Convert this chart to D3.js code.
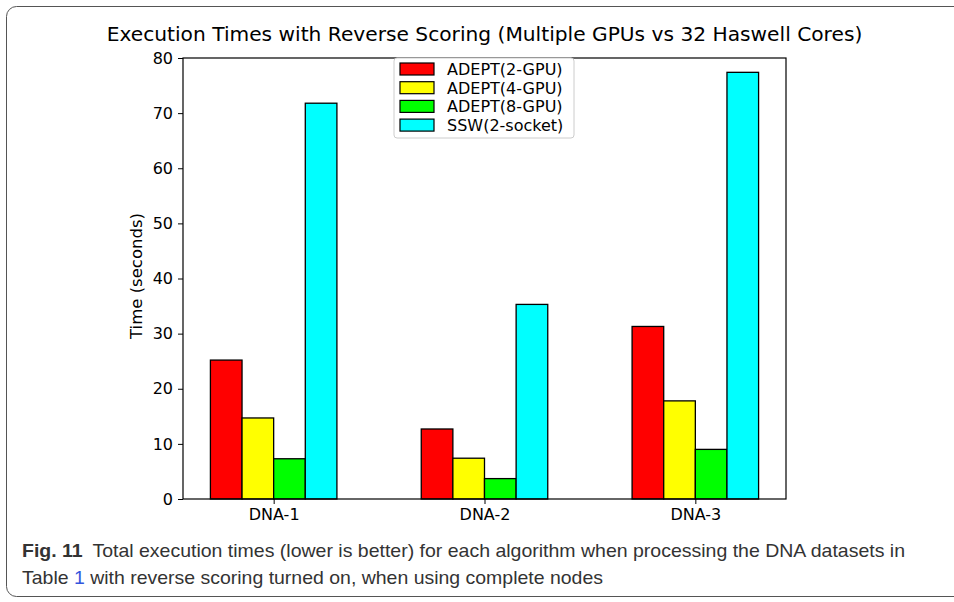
<!DOCTYPE html>
<html>
<head>
<meta charset="utf-8">
<script src="https://cdn.jsdelivr.net/npm/d3@7"></script>
<style>
  body { margin: 0; background: #fff; }
  svg { display: block; }
</style>
</head>
<body>
<svg id="chart" width="954" height="602"></svg>
<script>
// data
var datasets = ["DNA-1", "DNA-2", "DNA-3"];
var seriesNames = ["ADEPT(2-GPU)", "ADEPT(4-GPU)", "ADEPT(8-GPU)", "SSW(2-socket)"];
var seriesColors = ["#ff0000", "#ffff00", "#00ff00", "#00ffff"];
var adept2 = [25.2, 12.7, 31.3];
var adept4 = [14.7, 7.4, 17.8];
var adept8 = [7.3, 3.7, 9.0];
var ssw = [71.8, 35.3, 77.4];
var yTicks = [0, 10, 20, 30, 40, 50, 60, 70, 80];

var series = [adept2, adept4, adept8, ssw];

var svg = d3.select("#chart");
var plot = { left: 183, right: 786, top: 58, bottom: 499 };
var barW = 0.15;

// frame round the whole figure
svg.append("rect")
    .attr("x", 6.5).attr("y", 6.5)
    .attr("width", 980).attr("height", 590)
    .attr("rx", 10)
    .attr("fill", "none")
    .attr("stroke", "#555")
    .attr("stroke-width", 1);

// x is a linear scale on group index, like matplotlib (margin 5%)
var x = d3.scaleLinear()
    .domain([-0.3 - 0.13, 2.3 + 0.13])
    .range([plot.left, plot.right]);
var y = d3.scaleLinear()
    .domain([0, 80])
    .range([plot.bottom, plot.top]);

var g = svg.append("g");

series.forEach(function (vals, s) {
    g.selectAll("rect.s" + s)
        .data(vals)
        .enter()
        .append("rect")
        .attr("class", "s" + s)
        .attr("x", function (d, i) { return x(i + (s - 2) * barW); })
        .attr("width", function () { return x(barW) - x(0); })
        .attr("y", function (d) { return y(d); })
        .attr("height", function (d) { return y(0) - y(d); })
        .attr("fill", seriesColors[s])
        .attr("stroke", "#000")
        .attr("stroke-width", 1.3);
});

// axes
var yAxis = d3.axisLeft(y).tickValues(yTicks).tickSize(5).tickPadding(5);
var yg = svg.append("g")
    .attr("transform", "translate(" + plot.left + ",0)")
    .call(yAxis);
var xAxis = d3.axisBottom(x).tickValues([0, 1, 2])
    .tickFormat(function (d) { return datasets[d]; })
    .tickSize(5).tickPadding(5);
var xg = svg.append("g")
    .attr("transform", "translate(0," + plot.bottom + ")")
    .call(xAxis);

[yg, xg].forEach(function (a) {
    a.select(".domain").remove();
    a.selectAll("text")
        .attr("font-family", "DejaVu Sans")
        .attr("font-size", 16)
        .attr("fill", "#000");
    a.selectAll("line").attr("stroke", "#000").attr("stroke-width", 1);
});

// plot border
svg.append("rect")
    .attr("x", plot.left).attr("y", plot.top)
    .attr("width", plot.right - plot.left)
    .attr("height", plot.bottom - plot.top)
    .attr("fill", "none")
    .attr("stroke", "#000")
    .attr("stroke-width", 1.2);

// title
svg.append("text")
    .attr("x", (plot.left + plot.right) / 2)
    .attr("y", 41)
    .attr("text-anchor", "middle")
    .attr("font-family", "DejaVu Sans")
    .attr("font-size", 20.2)
    .attr("fill", "#000")
    .text("Execution Times with Reverse Scoring (Multiple GPUs vs 32 Haswell Cores)");

// y label
svg.append("text")
    .attr("transform", "translate(142,276) rotate(-90)")
    .attr("text-anchor", "middle")
    .attr("font-family", "DejaVu Sans")
    .attr("font-size", 16.5)
    .attr("fill", "#000")
    .text("Time (seconds)");

// legend
var leg = svg.append("g").attr("transform", "translate(394,58)");
leg.append("rect")
    .attr("width", 180).attr("height", 80)
    .attr("rx", 3)
    .attr("fill", "#fff")
    .attr("stroke", "#ccc")
    .attr("stroke-width", 1);
seriesNames.forEach(function (name, i) {
    var row = leg.append("g").attr("transform", "translate(0," + (5 + i * 18.7) + ")");
    row.append("rect")
        .attr("x", 6).attr("y", 0)
        .attr("width", 34).attr("height", 12)
        .attr("fill", seriesColors[i])
        .attr("stroke", "#000")
        .attr("stroke-width", 1.2);
    row.append("text")
        .attr("x", 53).attr("y", 12)
        .attr("font-family", "DejaVu Sans")
        .attr("font-size", 16)
        .attr("fill", "#000")
        .text(name);
});

// caption
var cap = svg.append("g")
    .attr("font-family", "Liberation Sans")
    .attr("font-size", 18.5)
    .attr("fill", "#333");
var l1 = cap.append("text").attr("x", 22).attr("y", 557)
    .attr("textLength", 883).attr("lengthAdjust", "spacingAndGlyphs");
l1.append("tspan").attr("font-weight", "bold").text("Fig. 11");
l1.append("tspan").text("\u2002Total execution times (lower is better) for each algorithm when processing the DNA datasets in");
var l2 = cap.append("text").attr("x", 22).attr("y", 584)
    .attr("textLength", 581).attr("lengthAdjust", "spacingAndGlyphs");
l2.append("tspan").text("Table ");
l2.append("tspan").attr("fill", "#3355dd").text("1");
l2.append("tspan").text(" with reverse scoring turned on, when using complete nodes");
</script>
</body>
</html>
